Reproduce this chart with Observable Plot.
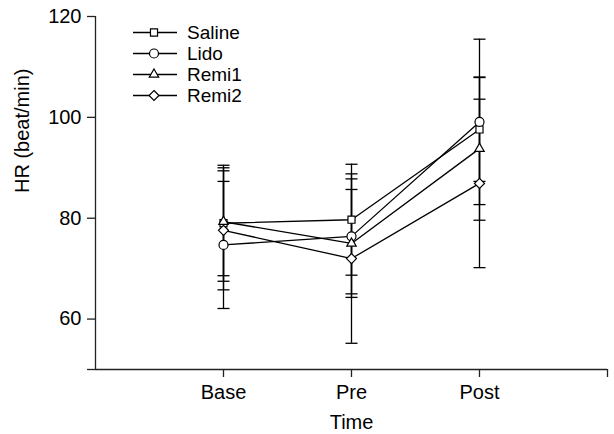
<!DOCTYPE html>
<html><head><meta charset="utf-8">
<script src="https://cdn.jsdelivr.net/npm/d3@7"></script>
<script src="https://cdn.jsdelivr.net/npm/@observablehq/plot@0.6"></script>
<style>
body{margin:0;background:#fff;font-family:"Liberation Sans",Arial,sans-serif;}
#wrap{position:relative;width:614px;height:434px;}
#legend{position:absolute;left:133px;top:22px;font-size:19px;color:#000;}
.lrow{display:flex;align-items:center;height:21px;}
.lrow span{margin-left:10px;line-height:21px;}
</style></head><body><div id="wrap"><div id="legend"></div></div>
<script>
const timepoints = ["Base", "Pre", "Post"];
const groups = ["Saline", "Lido", "Remi1", "Remi2"];
const symbols = ["square2", "circle", "triangle2", "diamond2"];
const salineMean = [79.0, 79.7, 97.6];
const salineSD   = [11.5, 11.0, 10.3];
const lidoMean   = [74.7, 76.4, 99.1];
const lidoSD     = [12.6, 11.4, 16.4];
const remi1Mean  = [79.3, 75.0, 93.8];
const remi1SD    = [10.7, 10.7, 14.2];
const remi2Mean  = [77.6, 72.0, 86.9];
const remi2SD    = [11.8, 16.8, 16.7];
const yTicks = [50, 60, 80, 100, 120];
const yLabels = ["", "60", "80", "100", "120"];
const xTicks = [1, 2, 3, 4];

const means = [salineMean, lidoMean, remi1Mean, remi2Mean];
const sds = [salineSD, lidoSD, remi1SD, remi2SD];
const rows = [];
groups.forEach((g, gi) => {
  timepoints.forEach((t, ti) => {
    rows.push({group: g, t: ti + 1, mean: means[gi][ti], sd: sds[gi][ti]});
  });
});

const cap = {draw(context, size) { context.moveTo(-6, 0); context.lineTo(6, 0); }};
const ff = "Liberation Sans, Arial, sans-serif";

const chart = Plot.plot({
  width: 614, height: 434,
  marginLeft: 95, marginRight: 7, marginTop: 16, marginBottom: 65,
  style: {fontFamily: ff, fontSize: "20px", color: "#000", background: "#fff"},
  x: {domain: [0, 4]},
  y: {domain: [50, 120]},
  symbol: {domain: groups, range: symbols},
  marks: [
    Plot.axisX({ticks: xTicks, tickFormat: i => timepoints[i - 1] ?? "", tickSize: 8, tickPadding: 7, label: null, stroke: "#222", strokeWidth: 1.3, fontSize: 20}),
    Plot.axisY({ticks: yTicks, tickFormat: v => yLabels[yTicks.indexOf(v)], tickSize: 8, tickPadding: 6, label: null, stroke: "#222", strokeWidth: 1.3, fontSize: 20}),
    Plot.ruleX([0], {stroke: "#222", strokeWidth: 1.3}),
    Plot.ruleY([50], {stroke: "#222", strokeWidth: 1.3}),
    Plot.text(["Time"], {frameAnchor: "bottom", dy: 59, fontSize: 20}),
    Plot.text(["HR (beat/min)"], {frameAnchor: "left", dx: -73, rotate: -90, fontSize: 20}),
    Plot.ruleX(rows, {x: "t", y1: d => d.mean - d.sd, y2: d => d.mean + d.sd, stroke: "#000", strokeWidth: 1.3}),
    Plot.dot(rows, {x: "t", y: d => d.mean + d.sd, symbol: cap, stroke: "#000", strokeWidth: 1.3, fill: "none"}),
    Plot.dot(rows, {x: "t", y: d => d.mean - d.sd, symbol: cap, stroke: "#000", strokeWidth: 1.3, fill: "none"}),
    Plot.line(rows, {x: "t", y: "mean", z: "group", stroke: "#000", strokeWidth: 1.3}),
    Plot.dot(rows, {x: "t", y: "mean", symbol: "group", r: 4.5, fill: "white", stroke: "#000", strokeWidth: 1.2})
  ]
});
document.getElementById("wrap").prepend(chart);

const legend = d3.select("#legend");
const d3syms = {square2: d3.symbolSquare2, circle: d3.symbolCircle, triangle2: d3.symbolTriangle2, diamond2: d3.symbolDiamond2};
groups.forEach((g, i) => {
  const row = legend.append("div").attr("class", "lrow");
  const svg = row.append("svg").attr("width", 44).attr("height", 21);
  svg.append("line").attr("x1", 0).attr("x2", 44).attr("y1", 10.5).attr("y2", 10.5).attr("stroke", "#000").attr("stroke-width", 1.3);
  svg.append("path").attr("transform", "translate(21,10.5)")
    .attr("d", d3.symbol(d3syms[symbols[i]], Math.PI * 4.5 * 4.5)())
    .attr("fill", "white").attr("stroke", "#000").attr("stroke-width", 1.2);
  row.append("span").text(g);
});
</script>
</body></html>
